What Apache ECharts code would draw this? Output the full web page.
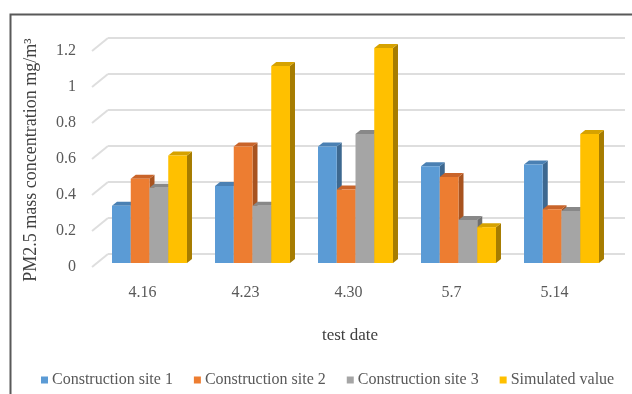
<!DOCTYPE html>
<html>
<head>
<meta charset="utf-8">
<script src="https://cdn.jsdelivr.net/npm/echarts@6/dist/echarts.min.js"></script>
<style>
html, body { margin: 0; padding: 0; background: #fff; }
#chart { width: 632px; height: 394px; }
</style>
</head>
<body>
<div id="chart"></div>
<script>
// data
var dates = ['4.16', '4.23', '4.30', '5.7', '5.14'];
var site1 = [0.32, 0.43, 0.65, 0.54, 0.55];
var site2 = [0.47, 0.65, 0.41, 0.48, 0.30];
var site3 = [0.42, 0.32, 0.72, 0.24, 0.29];
var simulated = [0.60, 1.10, 1.20, 0.20, 0.72];
var yTicks = [0, 0.2, 0.4, 0.6, 0.8, 1, 1.2];

var names = ['Construction site 1', 'Construction site 2', 'Construction site 3', 'Simulated value'];
var colors = ['#5b9bd5', '#ed7d31', '#a5a5a5', '#ffc000'];
var topColors = ['#4a80b3', '#c9642a', '#888888', '#d6a200'];
var sideColors = ['#3d6890', '#a8531f', '#6f6f6f', '#a67c00'];

var FONT = 'Liberation Serif';
var DX = 5, DY = -4;       // depth of the bars
var BAR_RATIO = 0.182;     // one bar's width relative to category band

var chart = echarts.init(document.getElementById('chart'));

function barRenderer(k) {
  return function (params, api) {
    var cat = api.value(0), val = api.value(1);
    var base = api.coord([cat, 0]);
    var top = api.coord([cat, val]);
    var band = api.size([1, 0])[0];
    var bw = band * BAR_RATIO;
    var x0 = base[0] - 2 * bw + k * bw;
    var x1 = x0 + bw;
    var yb = base[1], yt = top[1];
    return {
      type: 'group',
      children: [
        { type: 'polygon', shape: { points: [[x1, yt], [x1 + DX, yt + DY], [x1 + DX, yb + DY], [x1, yb]] },
          style: { fill: sideColors[k] } },
        { type: 'polygon', shape: { points: [[x0, yt], [x0 + DX, yt + DY], [x1 + DX, yt + DY], [x1, yt]] },
          style: { fill: topColors[k] } },
        { type: 'rect', shape: { x: x0, y: yt, width: bw, height: yb - yt },
          style: { fill: colors[k] } }
      ]
    };
  };
}

// slanted floor part of each gridline
function slantRenderer(params, api) {
  var p = api.coord([0, api.value(0)]);
  return {
    type: 'line',
    shape: { x1: p[0] - 16, y1: p[1] + 13, x2: p[0], y2: p[1] },
    style: { stroke: '#dedede', lineWidth: 2 }
  };
}

var seriesData = [site1, site2, site3, simulated];
var series = seriesData.map(function (arr, k) {
  return {
    name: names[k],
    type: 'custom',
    xAxisIndex: 0,
    yAxisIndex: 0,
    z: 10,
    itemStyle: { color: colors[k] },
    renderItem: barRenderer(k),
    encode: { x: 0, y: 1 },
    data: arr.map(function (v, i) { return [i, v]; })
  };
});
series.push({
  type: 'custom',
  xAxisIndex: 1,
  yAxisIndex: 1,
  z: 1,
  silent: true,
  renderItem: slantRenderer,
  encode: { y: 0 },
  data: yTicks.map(function (v) { return [v]; })
});

option = {
  animation: false,
  backgroundColor: '#ffffff',
  textStyle: { fontFamily: FONT },
  grid: [
    // front plane: bars
    { left: 98, right: 19, top: 48, bottom: 131 },
    // back plane: gridlines
    { left: 108, right: 7, top: 38, bottom: 140 },
    // tick labels
    { left: 92, right: 20, top: 51, bottom: 127 }
  ],
  xAxis: [
    {
      gridIndex: 0,
      type: 'category',
      data: dates,
      axisLine: { show: false },
      axisTick: { show: false },
      axisLabel: {
        margin: 22,
        fontSize: 16,
        fontFamily: FONT,
        color: '#595959',
        padding: [0, 14, 0, 0]
      },
      name: 'test date',
      nameLocation: 'middle',
      nameGap: 64,
      nameTextStyle: { fontSize: 17, fontFamily: FONT, color: '#404040', padding: [0, 11, 0, 0] }
    },
    { gridIndex: 1, type: 'value', min: 0, max: 1, show: false },
    { gridIndex: 2, type: 'value', min: 0, max: 1, show: false }
  ],
  yAxis: [
    { gridIndex: 0, type: 'value', min: 0, max: 1.2, interval: 0.2, show: false },
    {
      gridIndex: 1, type: 'value', min: 0, max: 1.2, interval: 0.2,
      axisLine: { show: false }, axisTick: { show: false }, axisLabel: { show: false },
      splitLine: { lineStyle: { color: '#dedede', width: 2 } }
    },
    {
      gridIndex: 2, type: 'value', min: 0, max: 1.2, interval: 0.2,
      axisLine: { show: false }, axisTick: { show: false }, splitLine: { show: false },
      axisLabel: { margin: 16, fontSize: 16, fontFamily: FONT, color: '#595959' }
    }
  ],
  legend: {
    data: names,
    left: 36,
    top: 367,
    icon: 'rect',
    itemWidth: 7,
    itemHeight: 7,
    itemGap: 21,
    textStyle: { fontSize: 16, fontFamily: FONT, color: '#595959', padding: [0, 0, 0, -1] }
  },
  graphic: [
    {
      type: 'rect',
      left: 8, top: 12,
      shape: { x: 0, y: 0, width: 700, height: 500 },
      style: { fill: 'none', stroke: '#595959', lineWidth: 2 },
      silent: true
    },
    {
      type: 'text',
      x: 31, y: 160,
      rotation: Math.PI / 2,
      style: {
        text: 'PM2.5 mass concentration mg/m³',
        fontSize: 18,
        fontFamily: FONT,
        fill: '#404040',
        align: 'center',
        verticalAlign: 'middle'
      }
    }
  ],
  series: series
};

chart.setOption(option);
</script>
</body>
</html>
